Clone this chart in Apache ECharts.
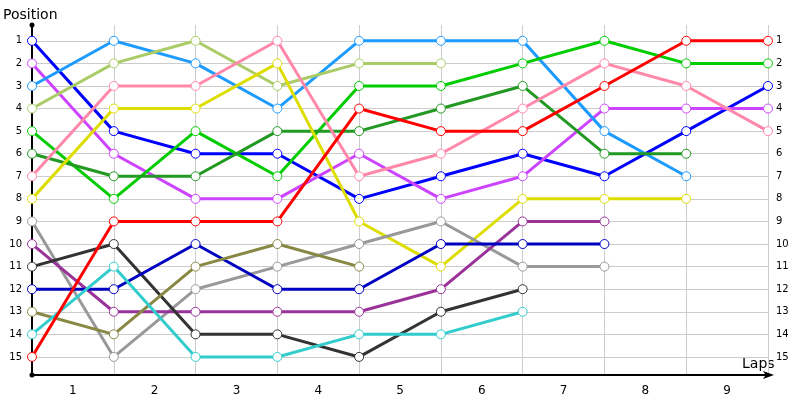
<!DOCTYPE html>
<html>
<head>
<meta charset="utf-8">
<script src="https://cdn.jsdelivr.net/npm/echarts@6/dist/echarts.min.js"></script>
<style>
  html, body { margin: 0; padding: 0; background: #fff; }
  #chart { width: 800px; height: 400px; }
</style>
</head>
<body>
<div id="chart"></div>
<script>
const chart = echarts.init(document.getElementById("chart"));

// laps shown on the x axis, positions are recorded at the lap boundaries 0..9
const laps = ["1", "2", "3", "4", "5", "6", "7", "8", "9"];

const drivers = [
  { color: "#0000ff", pos: [1, 5, 6, 6, 8, 7, 6, 7, 5, 3] },
  { color: "#cc44ff", pos: [2, 6, 8, 8, 6, 8, 7, 4, 4, 4] },
  { color: "#1e9bff", pos: [3, 1, 2, 4, 1, 1, 1, 5, 7] },
  { color: "#aacc66", pos: [4, 2, 1, 3, 2, 2] },
  { color: "#00cc00", pos: [5, 8, 5, 7, 3, 3, 2, 1, 2, 2] },
  { color: "#229922", pos: [6, 7, 7, 5, 5, 4, 3, 6, 6] },
  { color: "#ff88aa", pos: [7, 3, 3, 1, 7, 6, 4, 2, 3, 5] },
  { color: "#dddd00", pos: [8, 4, 4, 2, 9, 11, 8, 8, 8] },
  { color: "#999999", pos: [9, 15, 12, 11, 10, 9, 11, 11] },
  { color: "#993399", pos: [10, 13, 13, 13, 13, 12, 9, 9] },
  { color: "#333333", pos: [11, 10, 14, 14, 15, 13, 12] },
  { color: "#0000c0", pos: [12, 12, 10, 12, 12, 10, 10, 10] },
  { color: "#888844", pos: [13, 14, 11, 10, 11] },
  { color: "#33cccc", pos: [14, 11, 15, 15, 14, 14, 13] },
  { color: "#ff0000", pos: [15, 9, 9, 9, 4, 5, 5, 3, 1, 1] }
];

const FONT = "DejaVu Sans";

const posLabel = {
  fontFamily: FONT,
  fontSize: 10,
  color: "#000",
  showMinLabel: false,
  showMaxLabel: false,
  formatter: v => (Number.isInteger(v) ? String(v) : "")
};

chart.setOption({
  animation: false,
  grid: { left: 32, right: 32, top: 25, bottom: 25 },

  xAxis: [
    {
      type: "category",
      data: laps,
      boundaryGap: true,
      axisLine: {
        lineStyle: { color: "#000", width: 2 },
        symbol: ["none", "arrow"],
        symbolSize: [6, 11],
        symbolOffset: [0, 6]
      },
      axisTick: { show: false },
      axisLabel: { fontFamily: FONT, fontSize: 12, color: "#000", margin: 10 },
      splitLine: { show: true, lineStyle: { color: "#cccccc", width: 1 } }
    },
    { type: "value", min: 0, max: 9, show: false }
  ],

  yAxis: [
    {
      type: "value",
      inverse: true,
      min: 0.3,
      max: 15.8,
      splitNumber: 15,
      minInterval: 1,
      maxInterval: 1,
      axisLine: {
        show: true,
        lineStyle: { color: "#000", width: 2 },
        symbol: ["circle", "circle"],
        symbolSize: [5, 5]
      },
      axisTick: { show: false },
      axisLabel: Object.assign({ margin: 10 }, posLabel),
      splitLine: {
        show: true,
        showMinLine: false,
        showMaxLine: false,
        lineStyle: { color: "#cccccc", width: 1 }
      }
    },
    {
      type: "value",
      position: "right",
      inverse: true,
      min: 0.3,
      max: 15.8,
      splitNumber: 15,
      minInterval: 1,
      maxInterval: 1,
      axisLine: { show: false },
      axisTick: { show: false },
      axisLabel: Object.assign({ margin: 8 }, posLabel),
      splitLine: { show: false }
    }
  ],

  graphic: [
    {
      type: "text", left: 3, top: 8,
      style: { text: "Position", font: "14px 'DejaVu Sans'", fill: "#000" }
    },
    {
      type: "text", left: 742, top: 357,
      style: { text: "Laps", font: "14px 'DejaVu Sans'", fill: "#000" }
    }
  ],

  series: drivers.map(d => ({
    type: "line",
    xAxisIndex: 1,
    yAxisIndex: 0,
    data: d.pos.map((p, i) => [i, p]),
    symbol: "circle",
    symbolSize: 9,
    lineStyle: { color: d.color, width: 3 },
    itemStyle: { color: "#fff", borderColor: d.color, borderWidth: 1 }
  }))
});
</script>
</body>
</html>
